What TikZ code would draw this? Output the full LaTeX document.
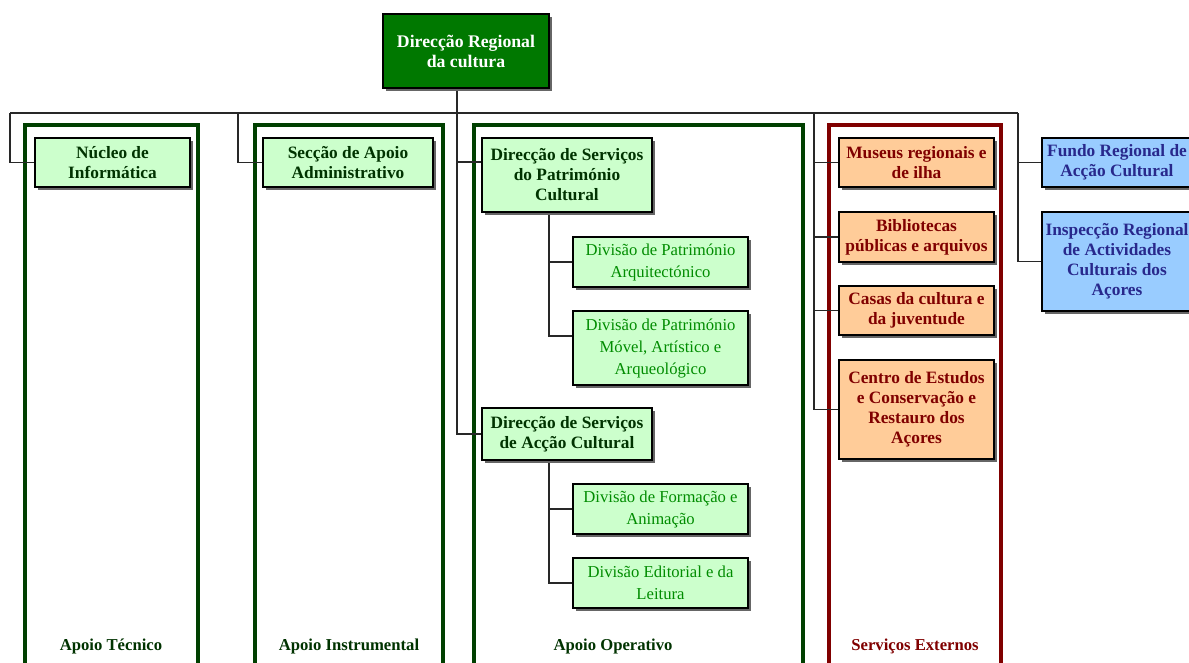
\documentclass[tikz,border=0pt]{standalone}
\usepackage{fontspec}
\setmainfont{Liberation Serif}
\usetikzlibrary{shadows,calc,backgrounds}
\definecolor{topgreen}{RGB}{0,120,0}
\definecolor{lightgreen}{RGB}{204,255,204}
\definecolor{darkgreen}{RGB}{0,51,0}
\definecolor{framegreen}{RGB}{0,64,0}
\definecolor{divgreen}{RGB}{0,140,0}
\definecolor{orangefill}{RGB}{255,204,153}
\definecolor{darkred}{RGB}{128,0,0}
\definecolor{bluefill}{RGB}{153,204,255}
\definecolor{navytext}{RGB}{40,40,140}
\definecolor{linegray}{RGB}{40,40,40}
\newcommand\obox[7]{\node[#6, minimum width={(#4-#2)*0.75pt}, minimum height={(#5-#3)*0.75pt}] (#1) at ({(#2+#4)/2},{(#3+#5)/2}) {#7};}
\tikzset{
  orgbox/.style={draw=black, line width=1pt, inner sep=0pt, outer sep=0pt, align=center,
    font=\fontsize{13}{15}\selectfont\bfseries,
    drop shadow={shadow xshift=2.6pt, shadow yshift=-2.6pt, fill=gray!80!black, opacity=1}},
  topbox/.style={orgbox, fill=topgreen, text=white, font=\fontsize{13.3}{15}\selectfont\bfseries},
  greenbox/.style={orgbox, fill=lightgreen, text=darkgreen},
  divbox/.style={orgbox, fill=lightgreen, text=divgreen, font=\fontsize{12.5}{16.5}\selectfont},
  orangebox/.style={orgbox, fill=orangefill, text=darkred},
  bluebox/.style={orgbox, fill=bluefill, text=navytext},
  frame/.style={draw=framegreen, line width=2.3pt},
  redframe/.style={draw=darkred, line width=2.3pt},
  conn/.style={draw=linegray, line width=1.1pt},
  grouplabel/.style={font=\fontsize{12.5}{14}\selectfont\bfseries, text=darkgreen, inner sep=0pt}
}
\begin{document}
\begin{tikzpicture}[x=0.75pt,y=-0.75pt]
\useasboundingbox (0,0) rectangle (1189,662);
\clip (0,0) rectangle (1189,662);
% boxes
\obox{top}{383}{14}{549}{88}{topbox}{Direcção Regional\\da cultura}
\obox{nuc}{35}{138}{190}{187}{greenbox}{Núcleo de\\Informática}
\obox{sec}{263}{138}{433}{187}{greenbox}{Secção de Apoio\\Administrativo}
\obox{dsp}{482}{138}{652}{212}{greenbox}{Direcção de Serviços\\do Património\\Cultural}
\obox{dpa}{573}{237}{748}{287}{divbox}{Divisão de Património\\Arquitectónico}
\obox{dpm}{573}{311}{748}{385}{divbox}{Divisão de Património\\Móvel, Artístico e\\Arqueológico}
\obox{dac}{482}{408}{652}{460}{greenbox}{Direcção de Serviços\\de Acção Cultural}
\obox{dfa}{573}{484}{748}{534}{divbox}{Divisão de Formação e\\Animação}
\obox{del}{573}{558}{748}{608}{divbox}{Divisão Editorial e da\\Leitura}
\obox{mus}{839}{138}{994}{187}{orangebox}{Museus regionais e\\de ilha}
\obox{bib}{839}{212}{994}{262}{orangebox}{Bibliotecas\\públicas e arquivos}
\obox{cas}{839}{286}{994}{335}{orangebox}{Casas da cultura e\\da juventude}
\obox{cen}{839}{360}{994}{459}{orangebox}{Centro de Estudos\\e Conservação e\\Restauro dos\\Açores}
\obox{fun}{1042}{138}{1192}{187}{bluebox}{Fundo Regional de\\Acção Cultural}
\obox{ins}{1042}{212}{1192}{311}{bluebox}{Inspecção Regional\\de Actividades\\Culturais dos\\Açores}
% group labels
\node[grouplabel] (lab1) at (111,646) {Apoio Técnico};
\node[grouplabel] (lab2) at (349,646) {Apoio Instrumental};
\node[grouplabel] (lab3) at (613,646) {Apoio Operativo};
\node[grouplabel, text=darkred] (lab4) at (915,646) {Serviços Externos};
% coordinates for connectors
\coordinate (busL) at (10,113);
\coordinate (busR) at (1018,113);
\coordinate (b2) at (238,113);
\coordinate (b3) at (457,113);
\coordinate (b4) at (814,113);
\coordinate (x549) at (549,0);
\begin{scope}[on background layer]
\fill[white] (0,0) rectangle (1189,662);
% group frames
\draw[frame] (25,125) rectangle (198,690);
\draw[frame] (255,125) rectangle (443,690);
\draw[frame] (474,125) rectangle (803,690);
\draw[redframe] (829,125) rectangle (1001,690);
% connectors
\draw[conn] (busL) -- (busR);
\draw[conn] ([xshift=-6.75pt]top.south) -- (b3);
\draw[conn] (busL) |- (nuc.west);
\draw[conn] (b2) |- (sec.west);
\draw[conn] (b3) |- ($(dsp.north west)+(0,24)$);
\draw[conn] (b3) |- (dac.west);
\draw[conn] (dsp.south -| x549) |- (dpa.west);
\draw[conn] (dsp.south -| x549) |- ($(dpm.north west)+(0,25)$);
\draw[conn] (dac.south -| x549) |- (dfa.west);
\draw[conn] (dac.south -| x549) |- (del.west);
\draw[conn] (b4) |- (mus.west);
\draw[conn] (b4) |- (bib.west);
\draw[conn] (b4) |- (cas.west);
\draw[conn] (b4) |- (cen.west);
\draw[conn] (busR) |- (fun.west);
\draw[conn] (busR) |- (ins.west);
\end{scope}
\end{tikzpicture}
\end{document}
